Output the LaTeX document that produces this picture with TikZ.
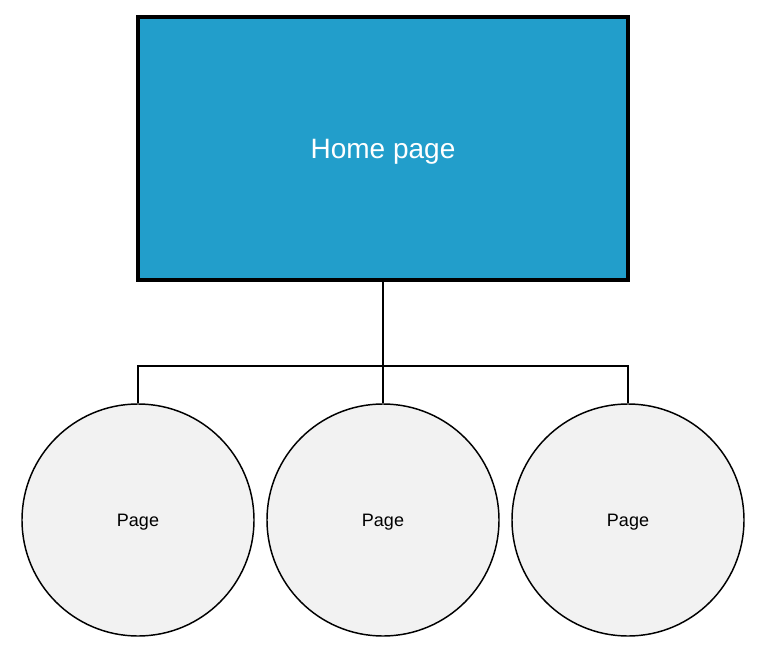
\documentclass[tikz,border=0pt]{standalone}
\usepackage{fontspec}
\setmainfont{Liberation Sans}
\definecolor{homeblue}{HTML}{229ECB}
\definecolor{pagegrey}{HTML}{F2F2F2}

\begin{document}
\begin{tikzpicture}[x=0.75pt, y=-0.75pt,
	homebox/.style={draw, line width=2.5pt, fill=homeblue, text=white, minimum width=367.5pt, minimum height=197.25pt, inner sep=0pt, text depth=0pt, font=\fontsize{21}{25}\selectfont},
	pagecircle/.style={circle, draw, line width=1.1pt, fill=pagegrey, minimum size=174pt, inner sep=0pt, text depth=0pt, font=\fontsize{13.5}{16}\selectfont},
	link/.style={line width=1.1pt}]
	\useasboundingbox (0, 0) rectangle (768, 649);
	\node [homebox] (Home) at (383, 148.5) {Home page};
	\node [pagecircle] (Page_1) at (138, 520) {Page};
	\node [pagecircle] (Page_2) at (383, 520) {Page};
	\node [pagecircle] (Page_3) at (628, 520) {Page};
	\coordinate (Left) at (138, 366);
	\coordinate (Right) at (628, 366);
	\draw [link] (Home.south) -- (Page_2.north);
	\draw [link] (Page_1.north) -- (Left) -- (Right) -- (Page_3.north);
\end{tikzpicture}
\end{document}
